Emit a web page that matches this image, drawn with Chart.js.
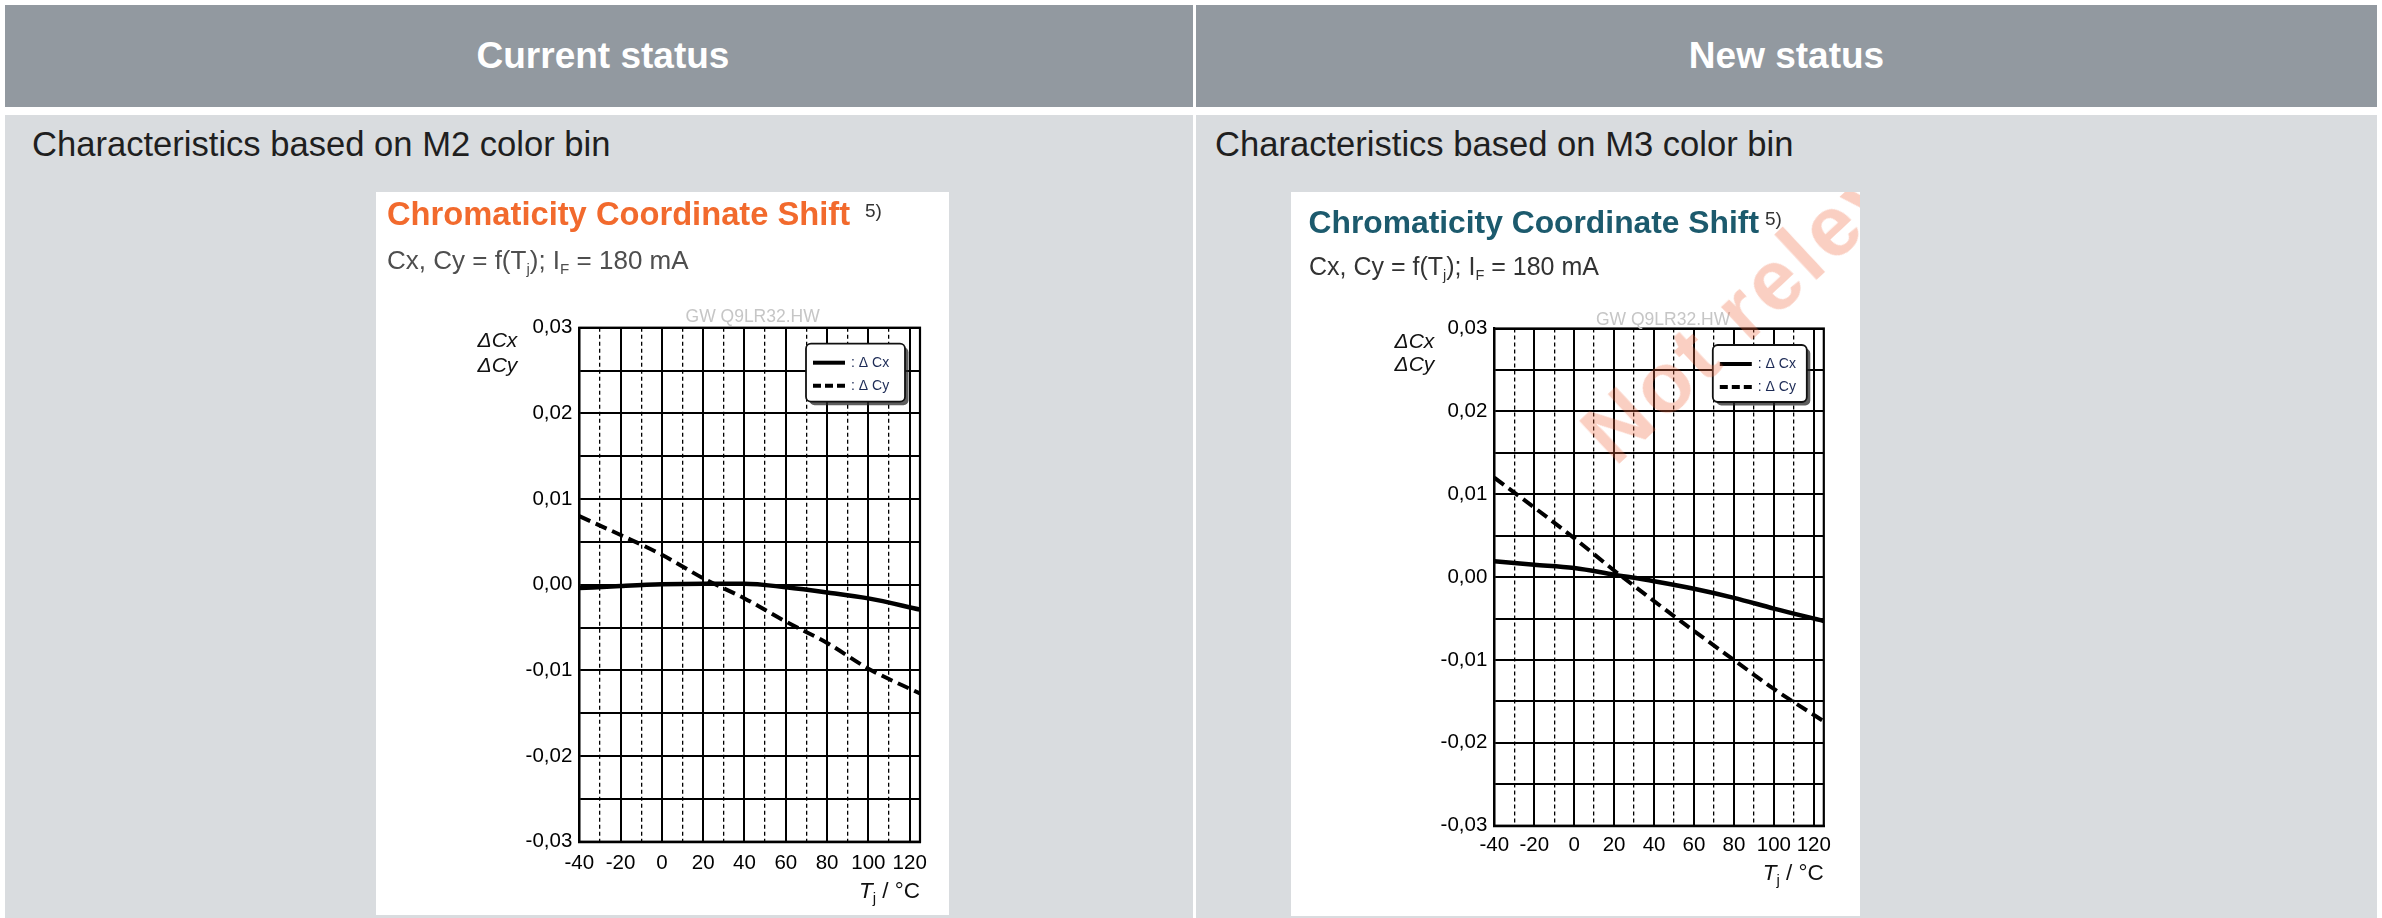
<!DOCTYPE html>
<html>
<head>
<meta charset="utf-8">
<title>Chromaticity Coordinate Shift</title>
<script src="https://cdn.jsdelivr.net/npm/chart.js@4.4.1/dist/chart.umd.min.js"></script>
<style>
  html, body { margin: 0; padding: 0; }
  body {
    width: 2382px; height: 918px; position: relative; overflow: hidden;
    background: #fff; font-family: "Liberation Sans", Arial, sans-serif;
  }
  .hd {
    position: absolute; top: 5px; height: 102px; background: #9299a0; color: #fff;
    font-weight: bold; font-size: 37px; display: flex; align-items: center; justify-content: center;
  }
  .bd { position: absolute; top: 115px; height: 803px; background: #d9dcdf; }
  .cap { position: absolute; top: 127px; font-size: 34.6px; line-height: 1; color: #1f1f1f; white-space: nowrap; }
  .sheet { position: absolute; top: 192px; background: #fff; overflow: hidden; }
  .sheet canvas { position: absolute; left: 0; top: 0; }
  .ttl { position: absolute; font-weight: bold; line-height: 1; white-space: nowrap; }
  .sup { position: absolute; font-size: 19px; line-height: 1; color: #333; }
  .sub { position: absolute; line-height: 1; white-space: nowrap; }
  .sub sub { font-size: 0.58em; vertical-align: -0.35em; line-height: 0; }
  .wm {
    position: absolute; font-weight: bold; font-size: 85px; letter-spacing: 4px; line-height: 1;
    white-space: nowrap; color: rgba(240, 105, 65, 0.32); transform-origin: 0 0; transform: rotate(-43deg);
  }
</style>
</head>
<body>

<div class="hd" style="left:5px;width:1188px;padding-left:8px;box-sizing:border-box">Current status</div>
<div class="hd" style="left:1196px;width:1181px">New status</div>

<div class="bd" style="left:5px;width:1188px"></div>
<div class="bd" style="left:1196px;width:1181px"></div>

<div class="cap" style="left:32px">Characteristics based on M2 color bin</div>
<div class="cap" style="left:1215px">Characteristics based on M3 color bin</div>

<div class="sheet" style="left:376px;width:573px;height:723px">
  <canvas id="chartM2" width="573" height="723"></canvas>
  <div class="ttl" style="left:11px;top:5.5px;font-size:32.7px;color:#f26a2d">Chromaticity Coordinate Shift</div>
  <div class="sup" style="left:489px;top:9px">5)</div>
  <div class="sub" style="left:11px;top:55px;font-size:26px;color:#4e4e4e">Cx, Cy = f(T<sub>j</sub>); I<sub>F</sub> = 180 mA</div>
</div>

<div class="sheet" style="left:1291px;width:569px;height:724px">
  <canvas id="chartM3" width="569" height="724"></canvas>
  <div class="ttl" style="left:17.5px;top:14.5px;font-size:31.8px;color:#1c5a6d">Chromaticity Coordinate Shift</div>
  <div class="sup" style="left:474px;top:17px">5)</div>
  <div class="sub" style="left:18px;top:62px;font-size:25px;color:#333">Cx, Cy = f(T<sub>j</sub>); I<sub>F</sub> = 180 mA</div>
  <div class="wm" style="left:275px;top:223px">Not relevant</div>
</div>

<script>
// junction temperature (°C) and colour shift per bin
const tempC = [-40, -20, 0, 20, 40, 60, 80, 100, 125];
const m2Cx = [-0.0004, -0.00015, 0.00005, 0.00012, 0.00012, -0.0003, -0.0009, -0.0016, -0.0029];
const m2Cy = [0.0080, 0.0058, 0.0035, 0.00075, -0.0016, -0.0043, -0.0068, -0.0098, -0.0127];
const m3Cx = [0.0019, 0.0015, 0.0011, 0.0003, -0.0005, -0.0014, -0.0025, -0.0038, -0.0053];
const m3Cy = [0.0120, 0.0084, 0.0047, 0.0008, -0.0029, -0.0065, -0.0100, -0.0135, -0.0174];

const xTicks = [-40, -30, -20, -10, 0, 10, 20, 30, 40, 50, 60, 70, 80, 90, 100, 110, 120];
const yTicks = [-0.03, -0.025, -0.02, -0.015, -0.01, -0.005, 0, 0.005, 0.01, 0.015, 0.02, 0.025, 0.03];
const seriesLabels = ['Δ Cx', 'Δ Cy'];
const drawingCode = 'GW Q9LR32.HW';

const FONT = '"Liberation Sans", Arial, sans-serif';

// frame, drawing code, axis names and the boxed legend
const sheetDecor = {
  id: 'sheetDecor',
  afterDatasetsDraw(chart, args, o) {
    const { ctx, chartArea: a } = chart;
    ctx.save();

    ctx.strokeStyle = '#000';
    ctx.lineWidth = 2.2;
    ctx.strokeRect(a.left, a.top, a.right - a.left, a.bottom - a.top);

    ctx.fillStyle = '#c6c6c6';
    ctx.font = '17.5px ' + FONT;
    ctx.textAlign = 'center';
    ctx.textBaseline = 'alphabetic';
    ctx.fillText(drawingCode, (a.left + a.right) / 2 + o.codeDx, a.top - o.codeDy);

    ctx.fillStyle = '#111';
    ctx.font = 'italic 21px ' + FONT;
    ctx.textAlign = 'right';
    ctx.fillText('ΔCx', a.left - o.yNameDx, a.top + o.yName1);
    ctx.fillText('ΔCy', a.left - o.yNameDx, a.top + o.yName2);

    // T_j / °C under the right end of the x axis
    const big = '22.5px ' + FONT, small = '15px ' + FONT;
    ctx.textAlign = 'left';
    ctx.font = 'italic ' + big;
    const wT = ctx.measureText('T').width;
    ctx.font = small;
    const wj = ctx.measureText('j').width;
    ctx.font = big;
    const wRest = ctx.measureText(' / °C').width;
    let tx = a.right - (wT + wj + wRest);
    const ty = a.bottom + o.xNameDy;
    ctx.font = 'italic ' + big; ctx.fillText('T', tx, ty); tx += wT;
    ctx.font = small; ctx.fillText('j', tx, ty + 5); tx += wj;
    ctx.font = big; ctx.fillText(' / °C', tx, ty);

    // legend box with drop shadow
    const w = o.legendW, h = o.legendH;
    const lx = a.right - o.legendRight - w, ly = a.top + o.legendTop;
    ctx.fillStyle = 'rgba(40,40,40,0.75)';
    ctx.beginPath(); ctx.roundRect(lx + 3.5, ly + 3.5, w, h, 5); ctx.fill();
    ctx.fillStyle = '#fff';
    ctx.beginPath(); ctx.roundRect(lx, ly, w, h, 5); ctx.fill();
    ctx.strokeStyle = '#111'; ctx.lineWidth = 1.8; ctx.stroke();

    chart.data.datasets.forEach((ds, i) => {
      const y = ly + 19 + i * 23;
      ctx.strokeStyle = '#000';
      ctx.lineWidth = 4;
      ctx.setLineDash(ds.borderDash && ds.borderDash.length ? [8, 4] : []);
      ctx.beginPath(); ctx.moveTo(lx + 7, y); ctx.lineTo(lx + 39, y); ctx.stroke();
      ctx.setLineDash([]);
      ctx.fillStyle = '#1c2a55';
      ctx.font = '14px ' + FONT;
      ctx.textBaseline = 'middle';
      ctx.fillText(': ' + ds.label, lx + 45, y);
      ctx.textBaseline = 'alphabetic';
    });

    ctx.restore();
  }
};

function makeChart(id, cx, cy, box, decor) {
  const canvas = document.getElementById(id);
  return new Chart(canvas, {
    type: 'line',
    data: {
      datasets: [
        {
          label: seriesLabels[0],
          data: tempC.map((t, i) => ({ x: t, y: cx[i] })),
          borderColor: '#000', borderWidth: 4.5, pointRadius: 0,
          cubicInterpolationMode: 'monotone', borderDash: []
        },
        {
          label: seriesLabels[1],
          data: tempC.map((t, i) => ({ x: t, y: cy[i] })),
          borderColor: '#000', borderWidth: 4, pointRadius: 0,
          cubicInterpolationMode: 'monotone', borderDash: [12, 6]
        }
      ]
    },
    options: {
      responsive: false,
      animation: false,
      devicePixelRatio: 1,
      layout: { padding: { left: 0, top: box.top, right: canvas.width - box.right, bottom: 0 } },
      plugins: { legend: { display: false }, tooltip: { enabled: false }, sheetDecor: decor },
      scales: {
        x: {
          type: 'linear', min: -40, max: 125,
          afterBuildTicks: s => { s.ticks = xTicks.map(v => ({ value: v })); },
          afterFit: s => { s.height = canvas.height - box.bottom; },
          grid: {
            color: '#000', drawTicks: false,
            lineWidth: c => (c.tick && c.tick.value % 20 !== 0 ? 1.3 : 2)
          },
          border: {
            display: true, color: '#000', width: 2.2,
            dash: c => (c.tick && c.tick.value % 20 !== 0 ? [4, 3] : [])
          },
          ticks: {
            autoSkip: false, maxRotation: 0, padding: box.xPad, color: '#000',
            font: { family: FONT, size: 20.5 },
            callback: v => (v % 20 === 0 ? String(v) : '')
          }
        },
        y: {
          type: 'linear', min: -0.03, max: 0.03,
          afterBuildTicks: s => { s.ticks = yTicks.map(v => ({ value: v })); },
          afterFit: s => { s.width = box.left; },
          grid: { color: '#000', lineWidth: 2, drawTicks: false },
          border: { display: true, color: '#000', width: 2.2 },
          ticks: {
            padding: 7, color: '#000',
            font: { family: FONT, size: 20.5 },
            callback: v => (Math.round(v * 1000) % 10 === 0 ? v.toFixed(2).replace('-0.00', '0.00').replace('.', ',') : '')
          }
        }
      }
    },
    plugins: [sheetDecor]
  });
}

makeChart('chartM2', m2Cx, m2Cy,
  { left: 203.3, top: 135.7, right: 544, bottom: 649.7, xPad: 9 },
  { codeDx: 3, codeDy: 6, yNameDx: 62, yName1: 19.3, yName2: 44.3, xNameDy: 56,
    legendW: 99, legendH: 58, legendRight: 15, legendTop: 16 });

makeChart('chartM3', m3Cx, m3Cy,
  { left: 203.3, top: 136.5, right: 532.8, bottom: 633.7, xPad: 7 },
  { codeDx: 4, codeDy: 4, yNameDx: 60, yName1: 19.5, yName2: 42.5, xNameDy: 54,
    legendW: 94, legendH: 57, legendRight: 17, legendTop: 16.5 });
</script>
</body>
</html>
